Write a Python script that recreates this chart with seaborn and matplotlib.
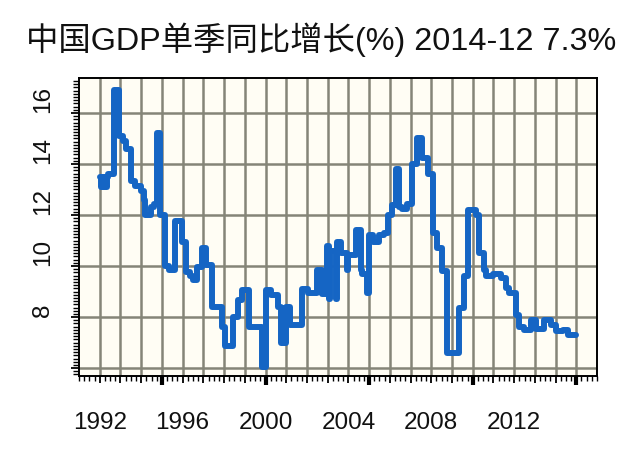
import matplotlib
matplotlib.use("Agg")
import matplotlib.pyplot as plt
from matplotlib.ticker import MultipleLocator
import seaborn as sns
import pandas as pd

# step breakpoints (decimal year, % yoy)
times = [1992.00, 1992.08, 1992.17, 1992.25, 1992.33, 1992.42, 1992.70, 1992.92,
         1993.10, 1993.25, 1993.50, 1993.72, 1993.97, 1994.13, 1994.20, 1994.45,
         1994.60, 1994.75, 1994.90, 1995.17, 1995.35, 1995.65, 1995.95, 1996.14,
         1996.35, 1996.50, 1996.70, 1996.95, 1997.15, 1997.43, 1997.90, 1998.05,
         1998.45, 1998.68, 1998.85, 1999.22, 1999.85, 2000.00, 2000.25, 2000.62,
         2000.73, 2000.97, 2001.17, 2001.78, 2002.05, 2002.50, 2002.75, 2002.98,
         2003.05, 2003.12, 2003.40, 2003.47, 2003.63, 2003.95, 2004.00, 2004.35,
         2004.60, 2004.68, 2004.92, 2005.00, 2005.20, 2005.48, 2005.70, 2005.90,
         2006.10, 2006.30, 2006.45, 2006.60, 2006.85, 2007.09, 2007.33, 2007.55,
         2007.82, 2008.06, 2008.30, 2008.54, 2008.78, 2009.34, 2009.58, 2009.75,
         2010.15, 2010.30, 2010.55, 2010.62, 2010.96, 2011.36, 2011.60, 2011.76,
         2012.08, 2012.24, 2012.48, 2012.80, 2013.05, 2013.45, 2013.77, 2014.00,
         2014.34, 2014.58, 2014.98]
values = [13.5, 13.1, 13.5, 13.1, 13.5, 13.6, 16.9, 15.1,
          14.9, 14.6, 13.35, 13.15, 12.95, 12.6, 12.0, 12.3,
          12.45, 15.2, 12.0, 10.0, 9.85, 11.75, 10.95, 9.75,
          9.6, 9.45, 9.95, 10.7, 10.05, 8.4, 7.6, 6.85,
          8.0, 8.65, 9.05, 7.62, 6.05, 9.05, 8.87, 8.4,
          7.0, 8.4, 7.7, 9.1, 8.95, 9.85, 8.9, 10.8,
          8.7, 10.6, 8.7, 10.95, 10.5, 9.85, 10.45, 11.4,
          9.85, 9.7, 8.95, 11.2, 10.95, 11.2, 11.3, 12.0,
          12.4, 13.8, 12.3, 12.25, 12.45, 14.0, 15.0, 14.25,
          13.6, 11.3, 10.7, 9.8, 6.6, 8.35, 9.6, 12.2,
          12.0, 10.5, 9.85, 9.6, 9.7, 9.55, 9.15, 8.95,
          8.1, 7.62, 7.5, 7.9, 7.55, 7.9, 7.7, 7.45,
          7.5, 7.3, 7.3]

grid_years = list(range(1992, 2016))
label_years = [1992, 1996, 2000, 2004, 2008, 2012]
bold_years = [1995, 2000, 2005, 2010, 2015]
y_grid = [6, 8, 10, 12, 14, 16]
y_labels = ["", "8", "10", "12", "14", "16"]

sns.set_style("white")
plt.rcParams['font.family'] = ['Liberation Sans', 'Noto Sans CJK SC', 'DejaVu Sans']

fig = plt.figure(figsize=(6.43, 4.55), dpi=100)
ax = fig.add_axes([0.1229, 0.1736, 0.8056, 0.655])
ax.set_facecolor('#fffdf4')

df = pd.DataFrame({'t': times, 'v': values})
sns.lineplot(data=df, x='t', y='v', ax=ax, color='#1565c4', linewidth=4.3,
             drawstyle='steps-post', zorder=3)

ax.set_xlim(1991.0, 2016.0)
ax.set_ylim(5.69, 17.37)
ax.set_xlabel("")
ax.set_ylabel("")

ax.set_xticks(grid_years, labels=[str(y) if y in label_years else "" for y in grid_years])
ax.xaxis.set_minor_locator(MultipleLocator(0.25))
ax.set_yticks(y_grid, labels=y_labels)
ax.yaxis.set_minor_locator(MultipleLocator(0.125))

ax.grid(which='major', color='#858578', linewidth=1.8, zorder=1)
ax.set_axisbelow(True)

ax.tick_params(axis='x', which='major', bottom=True, direction='out', length=5, width=1.3,
               color='black', pad=21, labelsize=17.5, labelcolor='#111111')
ax.tick_params(axis='x', which='minor', bottom=True, direction='out', length=3.5, width=1,
               color='black')
ax.tick_params(axis='y', which='major', left=True, direction='out', length=6, width=1.3,
               color='black', pad=12, labelsize=17.5, labelcolor='#111111')
ax.tick_params(axis='y', which='minor', left=True, direction='out', length=4, width=1,
               color='black')
for lab in ax.get_yticklabels():
    lab.set_rotation(90)
    lab.set_rotation_mode('anchor')
    lab.set_ha('left')
    lab.set_va('bottom')

for s in ax.spines.values():
    s.set_color('black')
    s.set_linewidth(1.4)

# heavier ticks every five years
sec = ax.secondary_xaxis('bottom')
sec.set_xticks(bold_years, labels=[""] * len(bold_years))
sec.tick_params(direction='out', length=6.5, width=3, color='black')
sec.spines['bottom'].set_visible(False)

fig.text(0.5, 1 - 40 / 455, "中国GDP单季同比增长(%) 2014-12 7.3%",
         ha='center', va='center', fontsize=23.3, color='#111111')

fig.savefig("out.png", dpi=100, facecolor='white')
